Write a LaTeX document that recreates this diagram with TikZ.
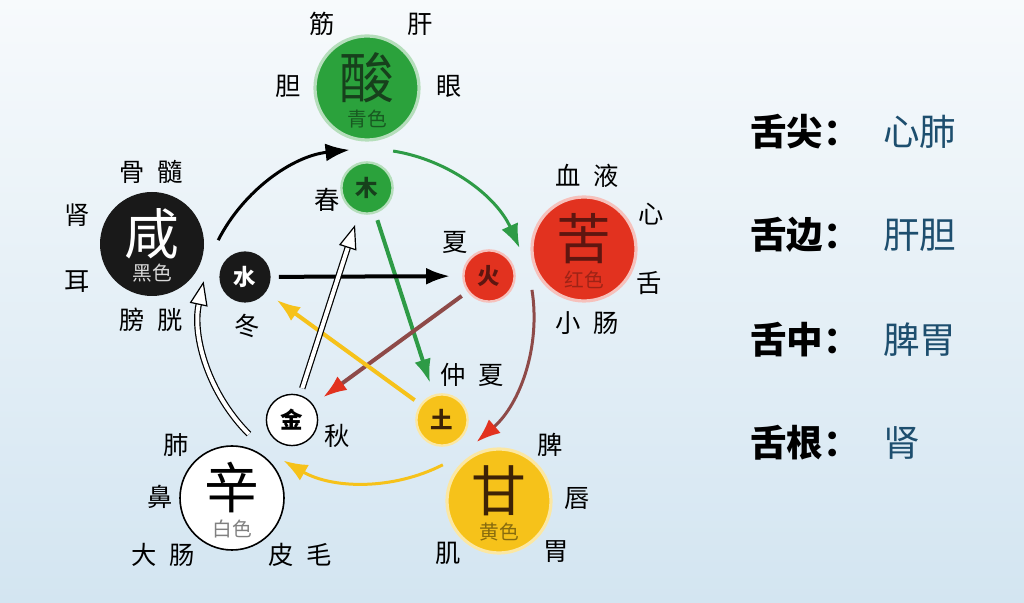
\documentclass[tikz,border=0pt]{standalone}
\usepackage{fontspec}
\setmainfont{Noto Sans CJK SC}
\usetikzlibrary{arrows.meta}
\definecolor{bgtop}{HTML}{F7FAFC}
\definecolor{bgbot}{HTML}{D3E5F1}
\definecolor{mugreen}{HTML}{2BA23C}
\definecolor{mudark}{HTML}{17401C}
\definecolor{huored}{HTML}{E2321F}
\definecolor{huodark}{HTML}{5E1610}
\definecolor{tuyel}{HTML}{F6C21A}
\definecolor{tudark}{HTML}{3D2206}
\definecolor{keybrown}{HTML}{8E4A48}
\definecolor{keygreen}{HTML}{2E9B46}
\definecolor{valblue}{HTML}{1D4E6E}
\tikzset{
  bigc/.style={circle, minimum size=26mm, inner sep=0pt, line width=0.8mm},
  bigt/.style={inner sep=0pt, font=\fontsize{39}{39}\selectfont},
  subt/.style={inner sep=0pt, font=\fontsize{14}{14}\selectfont},
  smallc/.style={circle, minimum size=12.8mm, inner sep=0pt, line width=0.6mm,
    font=\fontsize{16}{16}\selectfont\bfseries},
  lab/.style={inner sep=0pt, font=\fontsize{18}{18}\selectfont},
  key/.style={anchor=west, inner sep=0pt, font=\fontsize{26}{26}\selectfont\bfseries},
  val/.style={anchor=west, inner sep=0pt, text=valblue, font=\fontsize{26}{26}\selectfont},
  sheng/.style={line width=0.75mm, -{Latex[length=6mm, width=4.5mm]}},
  ke/.style={line width=1mm, -{Latex[length=6mm, width=4.2mm]}, shorten <=1.75mm, shorten >=3mm},
  hollow/.style={draw=black, line width=0.3mm, double=white, double distance=1mm,
    -{Triangle[length=6mm, width=4.5mm, fill=white, line width=0.3mm]}}
}
\begin{document}
\begin{tikzpicture}[x=0.25mm, y=0.25mm]
\shade[top color=bgtop, bottom color=bgbot] (0,0) rectangle (1024,603);
\useasboundingbox (0,0) rectangle (1024,603);
% big circles
\node[bigc, fill=mugreen, draw=mugreen!35!white] (suan) at (367,515) {};
\node[bigt, text=mudark] (suan-t) at ([yshift=2.6mm]suan.center) {酸};
\node[subt, text=mugreen!55!black] (suan-s) at ([yshift=-7.8mm]suan.center) {青色};
\node[bigc, fill=huored, draw=huored!30!white] (ku) at (584,354) {};
\node[bigt, text=huodark] (ku-t) at ([yshift=2.6mm]ku.center) {苦};
\node[subt, text=huored!70!black] (ku-s) at ([yshift=-7.8mm]ku.center) {红色};
\node[bigc, fill=tuyel, draw=tuyel!40!white] (gan) at (499,102) {};
\node[bigt, text=tudark] (gan-t) at ([yshift=2.6mm]gan.center) {甘};
\node[subt, text=tuyel!55!black] (gan-s) at ([yshift=-7.8mm]gan.center) {黄色};
\node[bigc, fill=white, draw=black, line width=0.4mm] (xin) at (232,105) {};
\node[bigt] (xin-t) at ([yshift=2.6mm]xin.center) {辛};
\node[subt, text=black!50] (xin-s) at ([yshift=-7.8mm]xin.center) {白色};
\node[bigc, fill=black!90] (xian) at (152,359) {};
\node[bigt, text=white] (xian-t) at ([yshift=2.6mm]xian.center) {咸};
\node[subt, text=black!15] (xian-s) at ([yshift=-7.2mm]xian.center) {黑色};
% small circles
\node[smallc, fill=mugreen, draw=mugreen!35!white, text=mudark] (mu) at (367,415) {木};
\node[smallc, fill=huored, draw=huored!30!white, text=huodark] (huo) at (489,327) {火};
\node[smallc, fill=tuyel, draw=tuyel!40!white, text=tudark] (tu) at (442,183) {土};
\node[smallc, fill=white, draw=black, line width=0.35mm] (jinc) at (292,183) {金};
\node[smallc, fill=black!90, text=white] (shui) at (245,326) {水};
% seasons
\node[lab] (chun) at (327,403) {春};
\node[lab] (xia) at (455,361) {夏};
\node[lab] (zhongxia) at (472,228) {仲\enspace 夏};
\node[lab] (qiu) at (337,167) {秋};
\node[lab] (dong) at (247,277) {冬};
% organs
\node[lab] (jin) at (322,579) {筋};
\node[lab] (gansuan) at (420,579) {肝};
\node[lab] (dan) at (288,517) {胆};
\node[lab] (yan) at (449,517) {眼};
\node[lab] (gusui) at (151,431) {骨\enspace 髓};
\node[lab] (shen) at (77,388) {肾};
\node[lab] (er) at (77,321) {耳};
\node[lab] (pangguang) at (151,283) {膀\enspace 胱};
\node[lab] (xueye) at (587,427) {血\enspace 液};
\node[lab] (xinku) at (651,389) {心};
\node[lab] (she) at (649,320) {舌};
\node[lab] (xiaochang) at (587,280) {小\enspace 肠};
\node[lab] (fei) at (176,158) {肺};
\node[lab] (bi) at (160,106) {鼻};
\node[lab] (dachang) at (163,48) {大\enspace 肠};
\node[lab] (pimao) at (300,48) {皮\enspace 毛};
\node[lab] (pi) at (550,158) {脾};
\node[lab] (chunlip) at (577,105) {唇};
\node[lab] (wei) at (556,51) {胃};
\node[lab] (ji) at (448,50) {肌};
% tongue list
\node[key] (k1) at (750,471) {舌尖：};
\node[val] (v1) at (883,471) {心肺};
\node[key] (k2) at (750,368) {舌边：};
\node[val] (v2) at (883,368) {肝胆};
\node[key] (k3) at (750,263) {舌中：};
\node[val] (v3) at (883,263) {脾胃};
\node[key] (k4) at (750,160) {舌根：};
\node[val] (v4) at (883,160) {肾};
% ring
\coordinate (O) at (367,287);
\begin{scope}[shift={(O)}]
\draw[sheng, black] (153:41.75mm) arc[start angle=153, end angle=96, radius=41.75mm];
\draw[sheng, keygreen] (81:41.75mm) arc[start angle=81, end angle=24, radius=41.75mm];
\draw[sheng, keybrown, -{Latex[length=6mm, width=4.5mm, color=huored]}] (9:41.75mm) arc[start angle=9, end angle=-49, radius=41.75mm];
\draw[sheng, tuyel] (-63:41.75mm) arc[start angle=-63, end angle=-120, radius=41.75mm];
\draw[hollow] (-135:41.75mm) arc[start angle=-135, end angle=-192, radius=41.75mm];
\end{scope}
% star
\draw[ke, keygreen] (mu) -- (tu);
\draw[ke, keybrown, -{Latex[length=6mm, width=4.2mm, color=huored]}] (huo) -- (jinc);
\draw[ke, tuyel] (tu) -- (shui);
\draw[ke, black] (shui) -- (huo);
\draw[hollow, shorten <=1.75mm, shorten >=3mm] (jinc) -- (mu);
\end{tikzpicture}
\end{document}
